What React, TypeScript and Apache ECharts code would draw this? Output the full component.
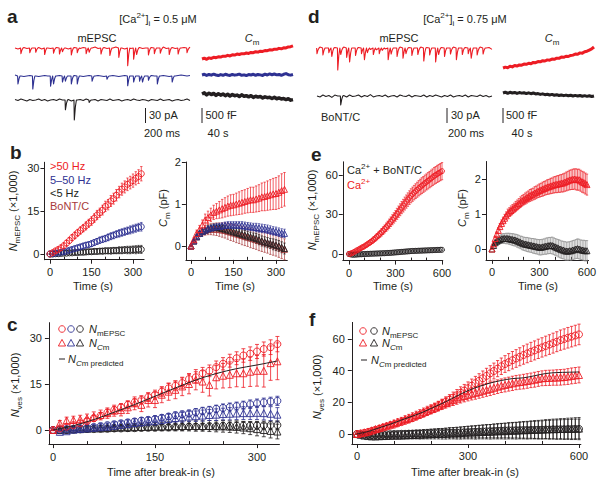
import React, { useEffect, useRef } from "react";
import * as echarts from "echarts";

const RED = "#ED1C24";
const BLUE = "#2E3192";
const BLACK = "#231F20";
const BONT = "#A8393B";
const GREY = "#8C8C8C";
const FONT = "'Liberation Sans', Arial, Helvetica, sans-serif";

// ---------- time bases ----------
const T34 = [0,10,20,30,40,50,60,70,80,90,100,110,120,130,140,150,160,170,180,190,200,210,220,230,240,250,260,270,280,290,300,310,320,330];
const T61 = [0,10,20,30,40,50,60,70,80,90,100,110,120,130,140,150,160,170,180,190,200,210,220,230,240,250,260,270,280,290,300,310,320,330,340,350,360,370,380,390,400,410,420,430,440,450,460,470,480,490,500,510,520,530,540,550,560,570,580,590,600];
const T12 = [0,30,60,90,120,150,180,210,240,270,300,330];
const T21 = [0,30,60,90,120,150,180,210,240,270,300,330,360,390,420,450,480,510,540,570,600];

// ---------- panel a / d traces ----------
const aRedTrace = [0,-2,-12,1,-1,-10,0,-9,1,-2,-14,0,-1,-11,1,-13,-8,0,-2,-15,1,-10,-1,1,-12,-9,0,2,-1,-13,1,-1,-16,0,2,-20,0,-2,-38,-1,-24,-14,1,-1,0,-15,1,-12,0,-11,2,-1,-14,1,-1,-13,0,1,-10,2];
const aBlueTrace = [2,-17,0,-1,0,1,-28,0,-1,0,1,0,-22,-17,0,1,-13,-11,0,-17,1,-17,0,-1,0,1,-11,0,1,0,-1,-7,0,1,0,-1,0,1,-21,0,-13,0,-11,-13,0,-9,1,0,-17,0,1,0,-1,-13,0,1,2,1,0,1];
const aBlackTrace = [1,-1,2,0,-2,1,-1,0,2,-1,1,-2,0,1,-1,2,0,-21,1,-2,-43,0,1,-1,2,-5,0,1,-2,1,0,-1,2,-1,0,1,-2,0,1,-1,2,0,-1,1,0,-2,1,0,-1,2,-1,0,1,-2,0,1,-1,0,2,-1];
const dRedTrace = [-12,2,-15,0,-10,-18,1,-47,-14,2,-20,-30,0,-16,1,-12,-25,-10,-3,-14,-4,-12,-5,-2,-25,-13,0,-18,2,-22,-12,1,-16,0,-14,2,-28,1,-15,0,-30,-14,1,-18,0,-13,2,-25,0,-14,1,-12,-22,0,-15,2,-13,0,1,-3];
const dBlackTrace = [0,-2,2,-1,1,-3,2,0,-19,1,-2,2,-1,0,2,-2,1,-1,3,-2,0,1,-1,2,-2,0,1,-2,2,0,-1,2,-2,1,0,-1,2,-2,1,-1,2,0,-2,1,-1,2,-2,0,1,-1,2,-2,1,0,-1,2,-1,1,-2,0];
const aRedCm = [0,30,-10,40,20,60,45,80,70,100,95,130,110,150,140,175,160,190,185,215,200,235,225,260,245,280,270,300,295,330,320,350,345,380,365,400,395,430,440,470];
const aBlueCm = [0,25,-15,20,-5,30,0,-20,15,-10,25,0,-15,20,-5,10,30,-10,5,-20,15,0,25,-10,20,5,-15,30,0,40,10,35,5,20,-10,25,50,10,-5,20];
const aBlackCm = [0,40,-30,30,-20,20,-50,10,-40,0,-60,-10,-70,-20,-60,-40,-90,-30,-80,-60,-100,-60,-120,-80,-110,-90,-140,-100,-130,-120,-160,-120,-170,-140,-180,-160,-200,-170,-220,-200];
const dRedCm = [0,30,10,60,40,90,70,110,100,140,130,170,150,200,190,230,220,260,250,290,280,320,310,350,345,390,380,420,410,450,460,500,490,540,530,580,600,640,680,750];
const dBlackCm = [0,30,-10,25,0,20,-15,15,-5,10,-20,5,-25,0,-35,-20,-50,-30,-60,-45,-70,-50,-80,-60,-90,-70,-95,-75,-100,-80,-105,-85,-110,-90,-115,-95,-120,-100,-125,-105];

// ---------- panels b & c (0.5 uM) ----------
const hiN = [0,0.5,1.1,1.6,2.2,2.9,3.8,4.7,5.7,6.5,7.4,8.2,9.0,9.8,10.7,11.5,12.5,13.6,14.4,15.3,16.6,17.2,18.5,19.3,20.5,21.6,22.6,23.4,24.3,24.9,25.6,26.4,27.0,28.0];
const hiNErr = [0.2,0.5,0.6,0.7,0.8,0.9,1.0,1.0,1.1,1.2,1.2,1.3,1.3,1.4,1.4,1.5,1.5,1.6,1.6,1.7,1.8,1.8,1.9,1.9,2.0,2.0,2.1,2.1,2.2,2.2,2.3,2.3,2.4,2.5];
const hiCmN = [0,2.2,3.1,3.3,3.5,3.8,4.4,4.9,5.5,6.3,6.5,7.4,8.7,8.2,9.8,9.8,11.5,12.5,13.1,14.2,15.0,16.4,15.8,14.7,17.2,17.7,18.0,18.5,18.5,19.0,19.3,19.3,21.8,22.4];
const hiCmNErr = [0.2,0.9,1.1,1.2,1.3,1.4,1.5,1.6,1.7,1.8,1.9,2.0,2.1,2.2,2.3,2.5,2.6,2.8,2.9,3.0,3.2,3.3,3.5,3.6,3.8,4.0,4.2,4.4,4.6,4.8,5.0,5.3,5.6,6.0];
const midN = [0,0.1,0.3,0.4,0.6,0.8,1.0,1.3,1.6,1.9,2.2,2.5,2.8,3.1,3.3,3.6,4.0,4.4,4.8,5.1,5.4,5.8,6.2,6.5,6.9,7.2,7.5,7.8,8.1,8.4,8.7,9.0,9.3,9.5];
const midNErr = [0.1,0.3,0.4,0.5,0.5,0.6,0.6,0.7,0.7,0.8,0.8,0.8,0.9,0.9,0.9,1.0,1.0,1.0,1.1,1.1,1.1,1.2,1.2,1.2,1.2,1.3,1.3,1.3,1.3,1.4,1.4,1.4,1.4,1.5];
const midCmN = [0,-0.6,-0.4,0.1,0.3,0.5,0.7,0.9,1.1,1.4,1.7,2.0,2.3,2.6,2.8,3.0,3.3,3.6,3.9,4.1,4.4,4.5,4.7,4.9,5.0,5.2,5.3,5.4,5.5,5.5,5.6,5.5,5.3,5.0];
const midCmNErr = [0.1,0.6,0.7,0.8,0.9,1.0,1.0,1.1,1.1,1.2,1.2,1.3,1.3,1.4,1.4,1.5,1.5,1.5,1.6,1.6,1.7,1.7,1.8,1.8,1.9,1.9,2.0,2.0,2.1,2.1,2.2,2.2,2.3,2.3];
const loN = [0,0.0,0.1,0.1,0.2,0.3,0.3,0.4,0.4,0.5,0.5,0.6,0.6,0.7,0.8,0.8,0.9,0.9,1.0,1.0,1.1,1.1,1.1,1.2,1.2,1.3,1.3,1.4,1.4,1.4,1.5,1.5,1.6,1.6];
const loNErr = [0.1,0.2,0.3,0.3,0.4,0.4,0.5,0.5,0.6,0.6,0.6,0.7,0.7,0.8,0.8,0.8,0.9,0.9,0.9,1.0,1.0,1.0,1.1,1.1,1.1,1.2,1.2,1.2,1.3,1.3,1.3,1.4,1.4,1.4];
const loCmN = [0,0.0,0.1,0.2,0.3,0.4,0.5,0.5,0.6,0.7,0.8,0.8,0.9,1.0,1.0,1.1,1.1,1.2,1.2,1.3,1.3,1.3,1.3,1.3,1.2,1.2,1.1,1.0,0.8,0.6,0.3,0.0,-0.3,-0.5];
const loCmNErr = [0.1,0.4,0.5,0.6,0.7,0.8,0.9,1.0,1.0,1.1,1.1,1.2,1.2,1.3,1.3,1.4,1.4,1.5,1.5,1.6,1.6,1.7,1.7,1.8,1.8,1.9,1.9,2.0,2.0,2.1,2.2,2.2,2.3,2.4];
const predC = [0,1.4,3.4,5.8,8.3,11.0,13.7,16.3,18.4,20.0,21.2,22.5];

const hiCm = [0,0.15,0.3,0.39,0.5,0.62,0.68,0.74,0.8,0.83,0.86,0.89,0.92,0.95,0.97,0.98,1.0,1.02,1.04,1.06,1.08,1.1,1.1,1.12,1.14,1.17,1.18,1.2,1.22,1.24,1.25,1.28,1.32,1.35];
const hiCmErr = [0.02,0.05,0.08,0.1,0.12,0.14,0.15,0.16,0.17,0.18,0.2,0.22,0.23,0.24,0.25,0.25,0.26,0.27,0.28,0.28,0.29,0.3,0.3,0.31,0.32,0.33,0.34,0.35,0.36,0.37,0.38,0.39,0.4,0.4];
const midCm = [0,0.12,0.22,0.3,0.35,0.38,0.41,0.43,0.45,0.46,0.47,0.48,0.49,0.5,0.5,0.5,0.5,0.5,0.49,0.48,0.47,0.46,0.45,0.44,0.43,0.42,0.41,0.4,0.38,0.36,0.35,0.33,0.31,0.3];
const midCmErr = [0.01,0.03,0.04,0.05,0.05,0.06,0.06,0.06,0.07,0.07,0.07,0.07,0.08,0.08,0.08,0.08,0.08,0.08,0.09,0.09,0.09,0.09,0.09,0.1,0.1,0.1,0.1,0.1,0.1,0.1,0.1,0.1,0.1,0.1];
const loCm = [0,0.12,0.22,0.3,0.35,0.38,0.41,0.43,0.44,0.44,0.43,0.42,0.4,0.38,0.36,0.34,0.32,0.3,0.28,0.26,0.24,0.22,0.2,0.18,0.15,0.12,0.1,0.08,0.06,0.04,0.02,0,-0.03,-0.06];
const loCmErr = [0.01,0.03,0.04,0.05,0.06,0.06,0.07,0.07,0.08,0.08,0.08,0.09,0.09,0.09,0.1,0.1,0.1,0.1,0.1,0.11,0.11,0.11,0.11,0.12,0.12,0.12,0.12,0.12,0.12,0.13,0.13,0.13,0.13,0.13];
const bontCm = [0,0.12,0.22,0.3,0.34,0.37,0.39,0.4,0.4,0.4,0.39,0.38,0.37,0.35,0.33,0.31,0.29,0.27,0.25,0.23,0.21,0.19,0.17,0.15,0.13,0.11,0.09,0.07,0.05,0.03,0.01,-0.02,-0.05,-0.08];
const bontCmErr = [0.02,0.04,0.06,0.08,0.1,0.11,0.12,0.13,0.14,0.15,0.16,0.17,0.18,0.19,0.2,0.2,0.21,0.21,0.22,0.22,0.22,0.23,0.23,0.23,0.24,0.24,0.24,0.24,0.25,0.25,0.25,0.25,0.25,0.25];

// ---------- panels e & f (0.75 uM) ----------
const caN = [0,0.3,0.8,1.3,2.0,2.7,3.3,4.0,4.7,5.3,5.9,6.7,7.5,8.3,9.1,10.0,11.0,12.0,13.1,14.2,15.3,16.5,17.7,19.0,20.3,21.6,23.0,24.5,26.0,27.4,28.9,30.5,32.1,33.6,35.2,36.7,38.3,39.8,41.3,42.8,44.2,45.4,46.6,47.7,48.8,49.9,50.9,51.9,52.8,53.8,54.7,55.6,56.5,57.4,58.3,59.3,60.0,60.8,61.5,62.2,62.9];
const caNErr = [0,0.3,0.5,0.6,0.8,0.9,1.0,1.1,1.2,1.4,1.5,1.6,1.7,1.8,1.9,2.0,2.1,2.2,2.4,2.5,2.6,2.8,2.9,3.0,3.2,3.3,3.5,3.6,3.8,3.9,4.0,4.2,4.3,4.5,4.6,4.8,4.9,5.0,5.1,5.2,5.3,5.4,5.5,5.6,5.7,5.8,5.9,6.0,6.0,6.1,6.1,6.2,6.2,6.3,6.3,6.4,6.4,6.5,6.5,6.5,6.5];
const caCmN = [0,0.5,1.0,1.6,2.3,3.1,3.8,4.6,5.3,6.1,6.9,7.7,8.5,9.4,10.2,11.1,12.0,12.9,13.8,14.8,15.7,16.6,17.6,18.6,19.6,20.5,21.4,22.3,23.2,24.0,24.7,25.4,26.0,26.6,27.3,27.9,28.5,29.2,29.9,30.5,31.0,31.5,32.0,32.5,32.8,33.1,33.5,33.9,34.3,34.8,35.2,35.4,35.5,35.6,35.7,35.8,36.0,36.3,36.7,37.0,37.3];
const caCmNErr = [0,0.5,0.8,1.0,1.2,1.3,1.4,1.5,1.6,1.7,1.8,1.9,2.0,2.1,2.2,2.3,2.4,2.5,2.6,2.7,2.8,2.9,3.0,3.1,3.2,3.3,3.4,3.5,3.6,3.7,3.8,3.9,4.0,4.0,4.1,4.1,4.2,4.2,4.3,4.3,4.4,4.4,4.5,4.5,4.5,4.6,4.6,4.6,4.7,4.7,4.7,4.8,4.8,4.8,4.9,4.9,4.9,5.0,5.0,5.0,5.0];
const bN = [0,-0.3,-0.5,-0.6,-0.5,-0.4,-0.3,-0.2,-0.2,-0.1,0,0,0.1,0.1,0.2,0.2,0.3,0.3,0.4,0.4,0.5,0.5,0.6,0.6,0.7,0.8,0.8,0.9,1.0,1.1,1.2,1.3,1.4,1.5,1.6,1.7,1.8,1.9,2.0,2.1,2.2,2.3,2.3,2.4,2.4,2.5,2.5,2.6,2.6,2.7,2.7,2.8,2.8,2.9,2.9,3.0,3.0,3.1,3.1,3.2,3.2];
const bNErr = [0,0.4,0.6,0.8,1.0,1.1,1.2,1.3,1.4,1.5,1.6,1.7,1.8,1.9,2.0,2.1,2.2,2.3,2.4,2.5,2.6,2.7,2.8,2.9,3.0,3.1,3.2,3.3,3.4,3.5,3.6,3.7,3.8,3.9,4.0,4.1,4.2,4.3,4.4,4.5,4.6,4.7,4.8,4.9,5.0,5.1,5.2,5.3,5.4,5.5,5.6,5.7,5.8,5.9,6.0,6.0,6.1,6.1,6.2,6.2,6.2];
const bCmN = [0,-0.5,-1.0,-1.3,-1.5,-1.5,-1.4,-1.3,-1.2,-1.1,-1.0,-1.0,-0.9,-0.8,-0.7,-0.6,-0.5,-0.5,-0.3,-0.2,-0.1,0,0.1,0.1,0.2,0.4,0.5,0.5,0.6,0.8,0.9,1.0,1.0,1.2,1.3,1.4,1.4,1.6,1.7,1.8,1.8,2.0,2.1,2.1,2.3,2.4,2.4,2.6,2.7,2.7,2.8,3.0,3.0,3.1,3.1,3.2,3.2,3.3,3.3,3.4,3.4];
const bCmNErr = [0,0.6,0.9,1.1,1.3,1.5,1.6,1.7,1.8,1.9,2.0,2.1,2.2,2.3,2.4,2.5,2.6,2.7,2.8,2.9,3.0,3.1,3.2,3.3,3.4,3.5,3.6,3.7,3.8,3.9,4.0,4.1,4.2,4.3,4.4,4.5,4.6,4.7,4.8,4.9,5.0,5.1,5.2,5.3,5.4,5.5,5.6,5.7,5.8,5.9,6.0,6.1,6.2,6.3,6.4,6.5,6.6,6.7,6.8,6.9,7.0];
const predF = [0,1.6,3.9,6.2,8.8,11.3,14.0,17.2,20.4,24.0,27.4,30.0,32.2,33.8,35.0,35.5,36.8,38.2,38.8,39.0,39.2];

const caCm = [0,0.15,0.3,0.42,0.53,0.64,0.73,0.81,0.88,0.95,1.02,1.06,1.1,1.14,1.18,1.22,1.26,1.3,1.34,1.38,1.41,1.44,1.47,1.5,1.53,1.55,1.57,1.6,1.62,1.65,1.67,1.69,1.71,1.73,1.75,1.77,1.78,1.8,1.81,1.83,1.84,1.85,1.86,1.87,1.88,1.89,1.91,1.93,1.95,1.97,1.98,1.99,2.0,1.99,1.98,1.98,1.95,1.92,1.9,1.87,1.84];
const caCmErr = [0,0.03,0.05,0.07,0.08,0.09,0.1,0.1,0.11,0.11,0.12,0.12,0.13,0.13,0.13,0.14,0.14,0.14,0.15,0.15,0.15,0.16,0.16,0.16,0.17,0.17,0.17,0.18,0.18,0.18,0.19,0.19,0.2,0.2,0.2,0.21,0.21,0.22,0.22,0.23,0.23,0.24,0.24,0.25,0.25,0.26,0.26,0.27,0.27,0.28,0.28,0.29,0.29,0.3,0.3,0.3,0.3,0.3,0.3,0.3,0.3];
const bCm = [0,0.1,0.18,0.22,0.25,0.27,0.29,0.3,0.3,0.3,0.3,0.29,0.28,0.27,0.26,0.25,0.23,0.21,0.19,0.17,0.15,0.14,0.13,0.12,0.11,0.1,0.09,0.08,0.07,0.06,0.05,0.05,0.06,0.07,0.08,0.09,0.1,0.1,0.1,0.08,0.06,0.04,0.02,0,-0.02,-0.03,-0.05,-0.06,-0.06,-0.05,-0.05,-0.03,-0.02,0,0.01,0,-0.02,-0.03,-0.04,-0.05,-0.05];
const bCmErr = [0,0.05,0.08,0.1,0.11,0.12,0.13,0.14,0.14,0.15,0.15,0.16,0.16,0.17,0.17,0.17,0.18,0.18,0.18,0.19,0.19,0.19,0.2,0.2,0.2,0.2,0.21,0.21,0.21,0.21,0.22,0.22,0.22,0.22,0.23,0.23,0.23,0.23,0.24,0.24,0.24,0.24,0.25,0.25,0.25,0.25,0.26,0.26,0.26,0.26,0.27,0.27,0.27,0.27,0.28,0.28,0.28,0.28,0.29,0.29,0.29];

// ---------- axis ticks ----------
const ticksB1Y = [0, 15, 30];
const ticksE1Y = [0, 30, 60];
const ticksCmB = [0, 1, 2];
const ticksF_Y = [0, 20, 40, 60];
const ticks300 = [0, 150, 300];
const ticks600 = [0, 300, 600];
const minor300 = [50, 100, 200, 250];
const minor600 = [100, 200, 400, 500];

// a sample at or below this value (pA) is an mEPSC event; it is drawn as a narrow downward stroke
const EVENT_LEVEL = -5;

function buildOption() {
  const grids: any[] = [];
  const xAxes: any[] = [];
  const yAxes: any[] = [];
  const series: any[] = [];
  const minorAxes: any[] = [];
  const axisLineStyle = { color: BLACK, width: 1 };

  function addGrid(left: number, width: number, zeroY: number, ymin: number, ymax: number, ppu: number, xmax: number) {
    const gi = grids.length;
    grids.push({ left, width, top: zeroY - ymax * ppu, height: (ymax - ymin) * ppu });
    xAxes.push({ type: "value", gridIndex: gi, show: false, min: 0, max: xmax });
    yAxes.push({ type: "value", gridIndex: gi, show: false, min: ymin, max: ymax });
    return gi;
  }

  // mEPSC trace: events drawn as sharp spikes with a short decay
  function addEpscTrace(values: number[], color: string, left: number, width: number, zeroY: number, ppu: number) {
    const gi = addGrid(left, width, zeroY, -50, 6, ppu, values.length - 1);
    const pts: number[][] = [];
    values.forEach((v, i) => {
      if (v <= EVENT_LEVEL) {
        pts.push([i - 0.12, 0], [i, v], [i + 0.35, v * 0.35], [i + 0.7, 0]);
      } else pts.push([i, v]);
    });
    series.push({ type: "line", xAxisIndex: gi, yAxisIndex: gi, data: pts, showSymbol: false, silent: true, clip: false, lineStyle: { color, width: 1.1, join: "round" } });
  }

  function addCmTrace(values: number[], color: string, lw: number, left: number, width: number, zeroY: number, ymin: number, ymax: number, ppu: number) {
    const gi = addGrid(left, width, zeroY, ymin, ymax, ppu, values.length - 1);
    series.push({ type: "line", xAxisIndex: gi, yAxisIndex: gi, data: values.map((v, i) => [i, v]), showSymbol: false, silent: true, clip: false, lineStyle: { color, width: lw, join: "round" } });
  }

  function addPanel(p: any) {
    const gi = grids.length;
    grids.push({ left: p.x0 + p.xmin * p.xs, width: (p.xmax - p.xmin) * p.xs, top: p.y0 - p.ymax * p.ys, height: (p.ymax - p.ymin) * p.ys });
    xAxes.push({
      type: "value", gridIndex: gi, min: p.xmin, max: p.xmax,
      axisLine: { show: true, onZero: false, lineStyle: axisLineStyle },
      axisTick: { show: true, length: 4, customValues: p.xt, lineStyle: axisLineStyle },
      axisLabel: { customValues: p.xt, fontSize: 11, color: BLACK, fontFamily: FONT, margin: p.xm },
      splitLine: { show: false },
    });
    yAxes.push({
      type: "value", gridIndex: gi, min: p.ymin, max: p.ymax,
      axisLine: { show: true, onZero: false, lineStyle: axisLineStyle },
      axisTick: { show: true, length: 4, customValues: p.yt, lineStyle: axisLineStyle },
      axisLabel: { customValues: p.yt, fontSize: 11, color: BLACK, fontFamily: FONT, margin: p.ym },
      splitLine: { show: false },
    });
    minorAxes.push({
      type: "value", gridIndex: gi, min: p.xmin, max: p.xmax, position: "bottom",
      axisLine: { show: false, onZero: false },
      axisTick: { show: true, inside: true, length: 3, customValues: p.minor, lineStyle: axisLineStyle },
      axisLabel: { show: false }, splitLine: { show: false },
    });
    return gi;
  }

  function errs(gi: number, xs: number[], ys: number[], es: number[], color: string, cap: number, lw = 0.8) {
    series.push({
      type: "custom", xAxisIndex: gi, yAxisIndex: gi, silent: true, clip: false,
      itemStyle: { color },
      encode: { x: 0, y: 1 },
      data: xs.map((x, k) => [x, ys[k], es[k]]),
      renderItem: (_params: any, api: any) => {
        const x = api.value(0), y = api.value(1), e = api.value(2);
        const a = api.coord([x, y + e]);
        const b = api.coord([x, y - e]);
        const st = { stroke: color, lineWidth: lw, fill: "none" };
        return {
          type: "group",
          children: [
            { type: "line", shape: { x1: a[0], y1: a[1], x2: b[0], y2: b[1] }, style: st },
            { type: "line", shape: { x1: a[0] - cap, y1: a[1], x2: a[0] + cap, y2: a[1] }, style: st },
            { type: "line", shape: { x1: b[0] - cap, y1: b[1], x2: b[0] + cap, y2: b[1] }, style: st },
          ],
        };
      },
    });
  }

  function dots(gi: number, xs: number[], ys: number[], color: string, symbol: string, size: number, bw = 0.9) {
    series.push({
      type: "scatter", xAxisIndex: gi, yAxisIndex: gi, symbol, symbolSize: size, silent: true, clip: false,
      itemStyle: { color: "rgba(0,0,0,0)", borderColor: color, borderWidth: bw, opacity: 1 },
      data: xs.map((x, k) => [x, ys[k]]),
    });
  }

  function curve(gi: number, xs: number[], ys: number[], color: string, lw: number) {
    series.push({
      type: "line", xAxisIndex: gi, yAxisIndex: gi, showSymbol: false, smooth: 0.35, silent: true,
      lineStyle: { color, width: lw }, data: xs.map((x, k) => [x, ys[k]]),
    });
  }

  // traces: mEPSC (pA), 30 pA = 14 px
  const pA = 14 / 30;
  addEpscTrace(aRedTrace, RED, 15, 175, 48, pA);
  addEpscTrace(aBlueTrace, BLUE, 15, 175, 76, pA);
  addEpscTrace(aBlackTrace, BLACK, 15, 175, 100, pA);
  addEpscTrace(dRedTrace, RED, 317, 175, 48, pA);
  addEpscTrace(dBlackTrace, BLACK, 317, 175, 96, pA);
  // traces: Cm (fF), 500 fF = 14 px
  const fF = 14 / 500;
  addCmTrace(aRedCm, RED, 3, 202, 91, 59, -150, 650, fF);
  addCmTrace(aBlueCm, BLUE, 3, 202, 91, 75, -150, 150, fF);
  addCmTrace(aBlackCm, BLACK, 3.5, 202, 91, 94, -300, 150, fF);
  addCmTrace(dRedCm, RED, 3, 503, 91, 68, -150, 850, fF);
  addCmTrace(dBlackCm, BLACK, 3, 503, 91, 93, -200, 100, fF);

  const gB1 = addPanel({ x0: 50, xs: 0.2767, y0: 254, ys: 2.867, xmin: -20, xmax: 340, ymin: -2, ymax: 32, xt: ticks300, yt: ticksB1Y, minor: minor300, xm: 7, ym: 5 });
  const gB2 = addPanel({ x0: 191, xs: 0.2833, y0: 246, ys: 42, xmin: -18, xmax: 340, ymin: -0.33, ymax: 2.0, xt: ticks300, yt: ticksCmB, minor: minor300, xm: 7, ym: 5 });
  const gE1 = addPanel({ x0: 349, xs: 0.155, y0: 254, ys: 1.317, xmin: -40, xmax: 605, ymin: -5, ymax: 70, xt: ticks600, yt: ticksE1Y, minor: minor600, xm: 7, ym: 5 });
  const gE2 = addPanel({ x0: 492, xs: 0.1583, y0: 249, ys: 35, xmin: -38, xmax: 610, ymin: -0.31, ymax: 2.5, xt: ticks600, yt: ticksCmB, minor: minor600, xm: 7, ym: 5 });
  const gC = addPanel({ x0: 53, xs: 0.68, y0: 430, ys: 3.067, xmin: -6, xmax: 333, ymin: -4.6, ymax: 35, xt: ticks300, yt: ticksB1Y, minor: minor300, xm: 7, ym: 7 });
  const gF = addPanel({ x0: 357, xs: 0.37, y0: 434, ys: 1.583, xmin: -14, xmax: 605, ymin: -6.3, ymax: 70.5, xt: ticks600, yt: ticksF_Y, minor: minor600, xm: 7, ym: 7 });

  // b left: N mEPSC
  errs(gB1, T34, loN, loNErr, BLACK, 1.2, 0.7); dots(gB1, T34, loN, BLACK, "circle", 6);
  errs(gB1, T34, midN, midNErr, BLUE, 1.2, 0.7); dots(gB1, T34, midN, BLUE, "circle", 6);
  errs(gB1, T34, hiN, hiNErr, RED, 1.2, 0.7); dots(gB1, T34, hiN, RED, "circle", 6);
  // b right: Cm
  errs(gB2, T34, bontCm, bontCmErr, BONT, 1.2, 0.7); dots(gB2, T34, bontCm, BONT, "triangle", 6);
  errs(gB2, T34, loCm, loCmErr, BLACK, 1.2, 0.7); dots(gB2, T34, loCm, BLACK, "triangle", 6);
  errs(gB2, T34, midCm, midCmErr, BLUE, 1.2, 0.7); dots(gB2, T34, midCm, BLUE, "triangle", 6);
  errs(gB2, T34, hiCm, hiCmErr, RED, 1.2, 0.7); dots(gB2, T34, hiCm, RED, "triangle", 6);
  // e left
  dots(gE1, T61, bN, BLACK, "circle", 5);
  errs(gE1, T61, caN, caNErr, RED, 1.2, 0.7); dots(gE1, T61, caN, RED, "circle", 5);
  // e right
  errs(gE2, T61, bCm, bCmErr, GREY, 1.2, 0.7); dots(gE2, T61, bCm, BLACK, "triangle", 6);
  errs(gE2, T61, caCm, caCmErr, RED, 1.2, 0.7); dots(gE2, T61, caCm, RED, "triangle", 6);
  // c
  errs(gC, T34, loN, loNErr, BLACK, 2); dots(gC, T34, loN, BLACK, "circle", 7);
  errs(gC, T34, loCmN, loCmNErr, BLACK, 2); dots(gC, T34, loCmN, BLACK, "triangle", 7);
  errs(gC, T34, midN, midNErr, BLUE, 2); dots(gC, T34, midN, BLUE, "circle", 7);
  errs(gC, T34, midCmN, midCmNErr, BLUE, 2); dots(gC, T34, midCmN, BLUE, "triangle", 7);
  errs(gC, T34, hiN, hiNErr, RED, 2); dots(gC, T34, hiN, RED, "circle", 7);
  errs(gC, T34, hiCmN, hiCmNErr, RED, 2); dots(gC, T34, hiCmN, RED, "triangle", 7);
  curve(gC, T12, predC, BLACK, 1);
  // f
  errs(gF, T61, bN, bNErr, BLACK, 1.6); dots(gF, T61, bN, BLACK, "circle", 7);
  errs(gF, T61, bCmN, bCmNErr, BLACK, 1.6); dots(gF, T61, bCmN, BLACK, "triangle", 7);
  errs(gF, T61, caN, caNErr, RED, 1.6); dots(gF, T61, caN, RED, "circle", 7);
  errs(gF, T61, caCmN, caCmNErr, RED, 1.6); dots(gF, T61, caCmN, RED, "triangle", 7);
  curve(gF, T21, predF, BLACK, 1);

  // ---------- texts ----------
  const rich = (size: number, color: string) => ({
    n: { fontSize: size, fontFamily: FONT, fill: color, lineHeight: size + 5 },
    i: { fontSize: size, fontFamily: FONT, fill: color, fontStyle: "italic", lineHeight: size + 5 },
    sub: { fontSize: size - 3, fontFamily: FONT, fill: color, verticalAlign: "bottom", lineHeight: size - 3 },
    isub: { fontSize: size - 3, fontFamily: FONT, fill: color, fontStyle: "italic", verticalAlign: "bottom", lineHeight: size - 3 },
    sup: { fontSize: size - 3, fontFamily: FONT, fill: color, verticalAlign: "top", lineHeight: size - 3 },
  });
  const txt = (x: number, y: number, text: string, o: any = {}) => ({
    type: "text", x, y, rotation: o.rot || 0, silent: true,
    style: {
      text, fill: o.color || BLACK, fontSize: o.size || 11, fontFamily: FONT, fontWeight: o.weight || "normal",
      align: o.align || "left", verticalAlign: "middle", rich: rich(o.size || 11, o.color || BLACK),
    },
  });
  const vline = (x: number, y1: number, y2: number) => ({ type: "line", silent: true, shape: { x1: x, y1, x2: x, y2 }, style: { stroke: BLACK, lineWidth: 1 } });
  const hline = (x1: number, x2: number, y: number) => ({ type: "line", silent: true, shape: { x1, y1: y, x2, y2: y }, style: { stroke: BLACK, lineWidth: 1 } });
  const circ = (cx: number, cy: number, c: string) => ({ type: "circle", silent: true, shape: { cx, cy, r: 3.3 }, style: { fill: "none", stroke: c, lineWidth: 0.9 } });
  const tri = (cx: number, cy: number, c: string) => ({ type: "polygon", silent: true, shape: { points: [[cx, cy - 3.6], [cx - 3.6, cy + 3], [cx + 3.6, cy + 3]] }, style: { fill: "none", stroke: c, lineWidth: 0.9 } });
  const ROT = Math.PI / 2;

  const graphic: any[] = [
    // panel letters
    txt(7, 16, "a", { size: 19, weight: "bold" }),
    txt(10, 152, "b", { size: 19, weight: "bold" }),
    txt(7, 324, "c", { size: 19, weight: "bold" }),
    txt(308, 16, "d", { size: 19, weight: "bold" }),
    txt(311, 154, "e", { size: 19, weight: "bold" }),
    txt(309, 319, "f", { size: 19, weight: "bold" }),
    // titles a, d
    txt(158, 19, "{n|[Ca}{sup|2+}{n|]}{sub|i}{n| = 0.5 μM}", { align: "center" }),
    txt(465, 19, "{n|[Ca}{sup|2+}{n|]}{sub|i}{n| = 0.75 μM}", { align: "center" }),
    txt(97, 38, "mEPSC", { align: "center" }),
    txt(252, 38, "{i|C}{sub|m}", { align: "center" }),
    txt(399, 38, "mEPSC", { align: "center" }),
    txt(552, 38, "{i|C}{sub|m}", { align: "center" }),
    // scale bars
    vline(145.5, 108, 123), vline(202, 108, 123), vline(447, 108, 123), vline(503, 108, 123),
    txt(149, 115, "30 pA"), txt(205.5, 115, "500 fF"), txt(162, 133, "200 ms", { align: "center" }), txt(218, 133, "40 s", { align: "center" }),
    txt(451, 115, "30 pA"), txt(506, 115, "500 fF"), txt(466, 133, "200 ms", { align: "center" }), txt(522, 133, "40 s", { align: "center" }),
    txt(321, 117, "BoNT/C"),
    // b legend
    txt(50, 166, ">50 Hz", { color: RED }),
    txt(50, 180, "5–50 Hz", { color: BLUE }),
    txt(50, 193, "<5 Hz", { color: BLACK }),
    txt(50, 206, "BoNT/C", { color: BONT }),
    // e legend
    txt(347, 170, "{n|Ca}{sup|2+}{n| + BoNT/C}"),
    txt(347, 185, "{n|Ca}{sup|2+}", { color: RED }),
    // y axis titles
    txt(13, 211, "{i|N}{sub|mEPSC}{n| (×1,000)}", { rot: ROT, align: "center" }),
    txt(163, 208, "{i|C}{sub|m}{n| (pF)}", { rot: ROT, align: "center" }),
    txt(312, 210, "{i|N}{sub|mEPSC}{n| (×1,000)}", { rot: ROT, align: "center" }),
    txt(462, 208, "{i|C}{sub|m}{n| (pF)}", { rot: ROT, align: "center" }),
    txt(15, 385, "{i|N}{sub|ves}{n| (×1,000)}", { rot: ROT, align: "center" }),
    txt(317, 387, "{i|N}{sub|ves}{n| (×1,000)}", { rot: ROT, align: "center" }),
    // x axis titles
    txt(93, 286, "Time (s)", { align: "center" }),
    txt(235, 286, "Time (s)", { align: "center" }),
    txt(393, 286, "Time (s)", { align: "center" }),
    txt(538, 286, "Time (s)", { align: "center" }),
    txt(161, 472, "Time after break-in (s)", { align: "center" }),
    txt(465, 472, "Time after break-in (s)", { align: "center" }),
    // c legend
    circ(62, 329, RED), circ(71, 329, BLUE), circ(80, 329, BLACK),
    txt(89, 329, "{i|N}{sub|mEPSC}"),
    tri(62, 343, RED), tri(71, 343, BLUE), tri(80, 343, BLACK),
    txt(89, 343, "{i|N}{isub|C}{sub|m}"),
    hline(59, 65, 359),
    txt(68, 359, "{i|N}{isub|C}{sub|m predicted}"),
    // f legend
    circ(363, 331, RED), circ(374, 331, BLACK),
    txt(382, 331, "{i|N}{sub|mEPSC}"),
    tri(363, 343, RED), tri(374, 343, BLACK),
    txt(382, 343, "{i|N}{isub|C}{sub|m}"),
    hline(361, 367, 360),
    txt(371, 360, "{i|N}{isub|C}{sub|m predicted}"),
  ];

  return {
    animation: false,
    backgroundColor: "#ffffff",
    grid: grids.map((g) => ({ ...g, containLabel: false })),
    xAxis: [...xAxes, ...minorAxes],
    yAxis: yAxes,
    series,
    graphic,
  };
}

export default function App() {
  const ref = useRef<HTMLDivElement>(null);
  useEffect(() => {
    if (!ref.current) return;
    const chart = echarts.init(ref.current, null, { renderer: "svg", width: 600, height: 484 });
    chart.setOption(buildOption() as any);
    return () => chart.dispose();
  }, []);
  return <div ref={ref} style={{ position: "fixed", left: 0, top: 0, width: 600, height: 484, background: "#fff" }} />;
}
